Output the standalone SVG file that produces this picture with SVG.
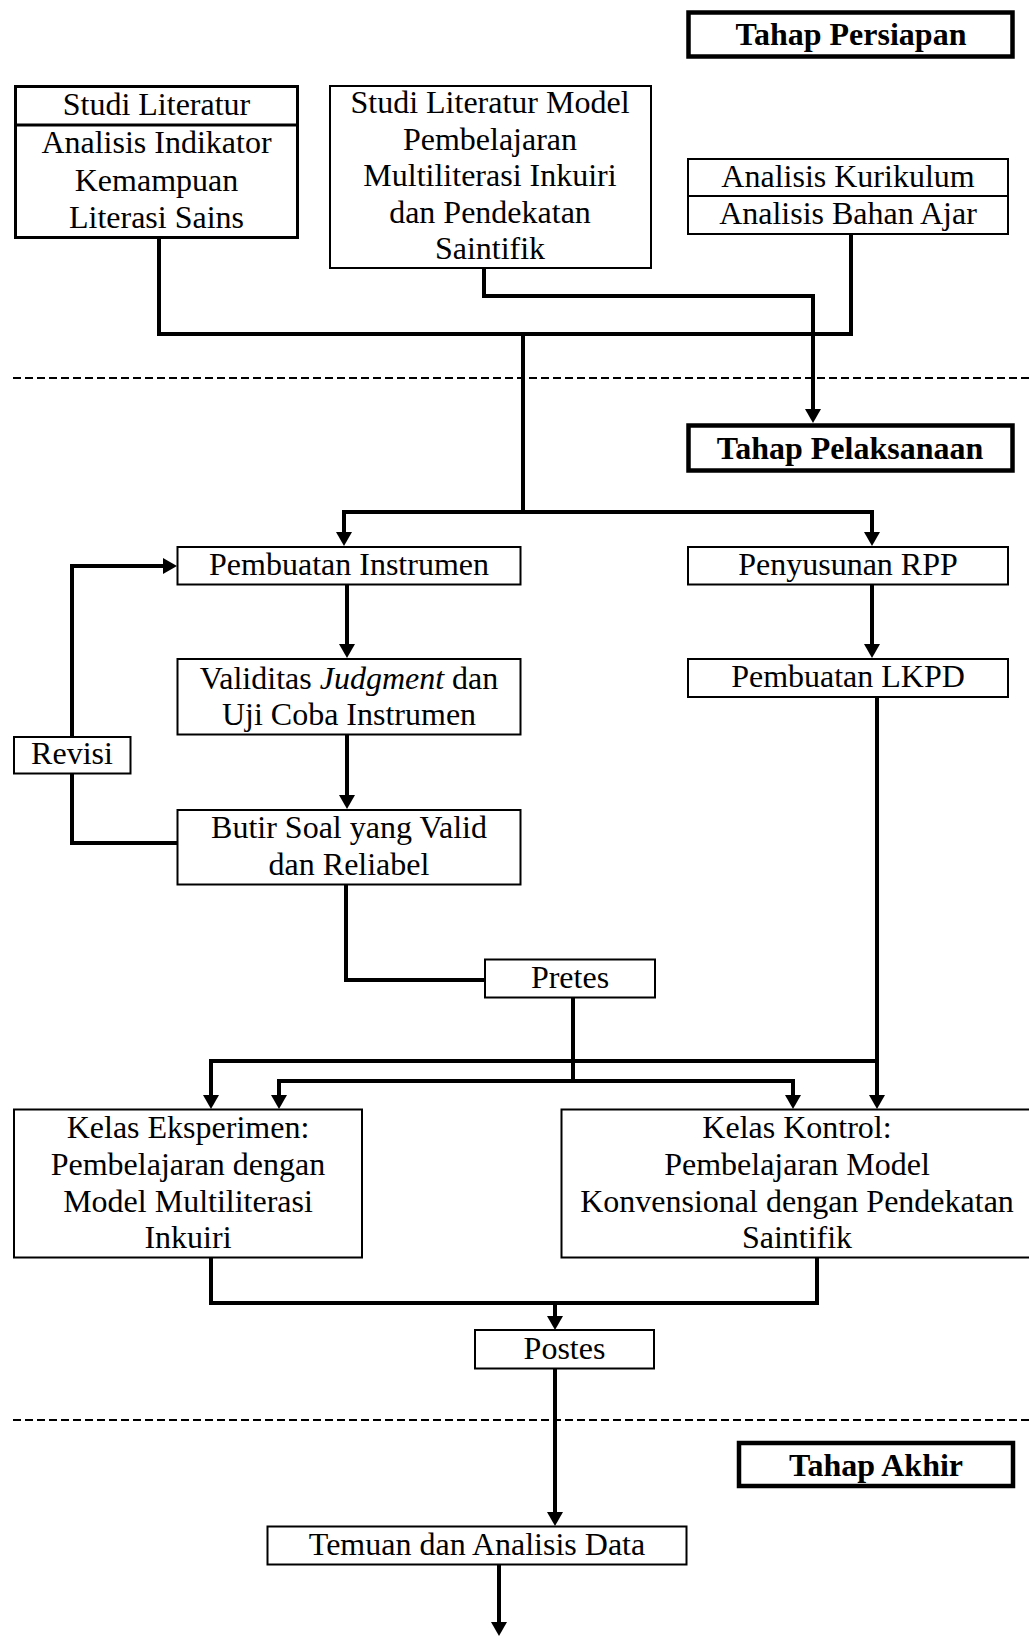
<svg xmlns="http://www.w3.org/2000/svg" width="1029" height="1636" viewBox="0 0 1029 1636">
<style>
text{font-family:"Liberation Serif","Times New Roman",serif;font-size:32px;fill:#000;text-anchor:middle}
.b{font-weight:bold}
.box{fill:#fff;stroke:#000;stroke-width:2}
.box1{fill:#fff;stroke:#000;stroke-width:3}
.stage{fill:#fff;stroke:#000;stroke-width:4.5}
.c{fill:none;stroke:#000;stroke-width:4}
.ca{fill:none;stroke:#000;stroke-width:4;marker-end:url(#ah)}
.dash{fill:none;stroke:#000;stroke-width:2;stroke-dasharray:8 4}
</style>
<defs>
<marker id="ah" viewBox="0 0 14 16" refX="6" refY="8" markerWidth="14" markerHeight="16" orient="auto" markerUnits="userSpaceOnUse">
<path d="M0,0 L14,8 L0,16 z" fill="#000"/>
</marker>
</defs>
<rect width="1029" height="1636" fill="#fff"/>

<g id="separators">
<line class="dash" x1="13" y1="378" x2="1029" y2="378"/>
<line class="dash" x1="13" y1="1420" x2="1029" y2="1420"/>
</g>

<g id="connectors">
<path class="c" d="M159,239 V334 H851 V235"/>
<path class="c" d="M523,334 V512"/>
<path class="ca" d="M484,269 V296 H813 V415"/>
<path class="ca" d="M523,512 H344 V538"/>
<path class="ca" d="M523,512 H872 V538"/>
<path class="ca" d="M347,585 V650"/>
<path class="ca" d="M347,735 V801"/>
<path class="c" d="M177,843 H72 V774"/>
<path class="ca" d="M72,736 V566 H169"/>
<path class="ca" d="M872,585 V650"/>
<path class="ca" d="M877,698 V1101"/>
<path class="ca" d="M877,1061 H211 V1101"/>
<path class="c" d="M346,885 V980 H485"/>
<path class="c" d="M573,998 V1081"/>
<path class="ca" d="M573,1081 H279 V1101"/>
<path class="ca" d="M573,1081 H793 V1101"/>
<path class="c" d="M211,1258 V1303 H817 V1258"/>
<path class="ca" d="M555,1303 V1322"/>
<path class="ca" d="M555,1369 V1518"/>
<path class="ca" d="M499,1565 V1628"/>
</g>

<g id="tahap-persiapan">
<rect class="stage" x="688.5" y="12.5" width="324" height="44"/>
<text class="b" x="851" y="45">Tahap Persiapan</text>
</g>

<g id="studi-literatur">
<rect class="box1" x="15.5" y="86.5" width="282" height="151"/>
<line x1="15.5" y1="125" x2="297.5" y2="125" stroke="#000" stroke-width="3"/>
<text x="156.5" y="115">Studi Literatur</text>
<text x="156.5" y="153">Analisis Indikator</text>
<text x="156.5" y="191">Kemampuan</text>
<text x="156.5" y="228">Literasi Sains</text>
</g>

<g id="studi-literatur-model">
<rect class="box" x="330" y="86" width="321" height="182"/>
<text x="490" y="113">Studi Literatur Model</text>
<text x="490" y="149.5">Pembelajaran</text>
<text x="490" y="186">Multiliterasi Inkuiri</text>
<text x="490" y="222.5">dan Pendekatan</text>
<text x="490" y="259">Saintifik</text>
</g>

<g id="analisis">
<rect class="box" x="688" y="159" width="320" height="75"/>
<line x1="688" y1="196" x2="1008" y2="196" stroke="#000" stroke-width="2"/>
<text x="848" y="187">Analisis Kurikulum</text>
<text x="848" y="224">Analisis Bahan Ajar</text>
</g>

<g id="tahap-pelaksanaan">
<rect class="stage" x="688.5" y="425.5" width="324" height="45"/>
<text class="b" x="850" y="459">Tahap Pelaksanaan</text>
</g>

<g id="pembuatan-instrumen">
<rect class="box" x="177.5" y="547" width="343" height="37.5"/>
<text x="349" y="575">Pembuatan Instrumen</text>
</g>

<g id="penyusunan-rpp">
<rect class="box" x="688" y="547" width="320" height="37.5"/>
<text x="848" y="575">Penyusunan RPP</text>
</g>

<g id="validitas">
<rect class="box" x="177.5" y="659" width="343" height="75.5"/>
<text x="349" y="689">Validitas <tspan font-style="italic">Judgment</tspan> dan</text>
<text x="349" y="725">Uji Coba Instrumen</text>
</g>

<g id="pembuatan-lkpd">
<rect class="box" x="688" y="659" width="320" height="38"/>
<text x="848" y="687">Pembuatan LKPD</text>
</g>

<g id="revisi">
<rect class="box" x="14" y="737" width="116.5" height="36.5"/>
<text x="72" y="764">Revisi</text>
</g>

<g id="butir-soal">
<rect class="box" x="177.5" y="810" width="343" height="74.5"/>
<text x="349" y="838">Butir Soal yang Valid</text>
<text x="349" y="875">dan Reliabel</text>
</g>

<g id="pretes">
<rect class="box" x="485" y="959.5" width="170" height="38"/>
<text x="570" y="988">Pretes</text>
</g>

<g id="kelas-eksperimen">
<rect class="box" x="14" y="1109.5" width="348" height="148"/>
<text x="188" y="1138">Kelas Eksperimen:</text>
<text x="188" y="1175">Pembelajaran dengan</text>
<text x="188" y="1212">Model Multiliterasi</text>
<text x="188" y="1248">Inkuiri</text>
</g>

<g id="kelas-kontrol">
<rect class="box" x="561.5" y="1109.5" width="480" height="148"/>
<text x="797" y="1138">Kelas Kontrol:</text>
<text x="797" y="1175">Pembelajaran Model</text>
<text x="797" y="1212">Konvensional dengan Pendekatan</text>
<text x="797" y="1248">Saintifik</text>
</g>

<g id="postes">
<rect class="box" x="475" y="1330" width="179" height="38.5"/>
<text x="564.5" y="1359">Postes</text>
</g>

<g id="tahap-akhir">
<rect class="stage" x="739" y="1443" width="274" height="43"/>
<text class="b" x="876" y="1476">Tahap Akhir</text>
</g>

<g id="temuan">
<rect class="box" x="267.5" y="1526.5" width="419" height="38"/>
<text x="477" y="1555">Temuan dan Analisis Data</text>
</g>
</svg>
